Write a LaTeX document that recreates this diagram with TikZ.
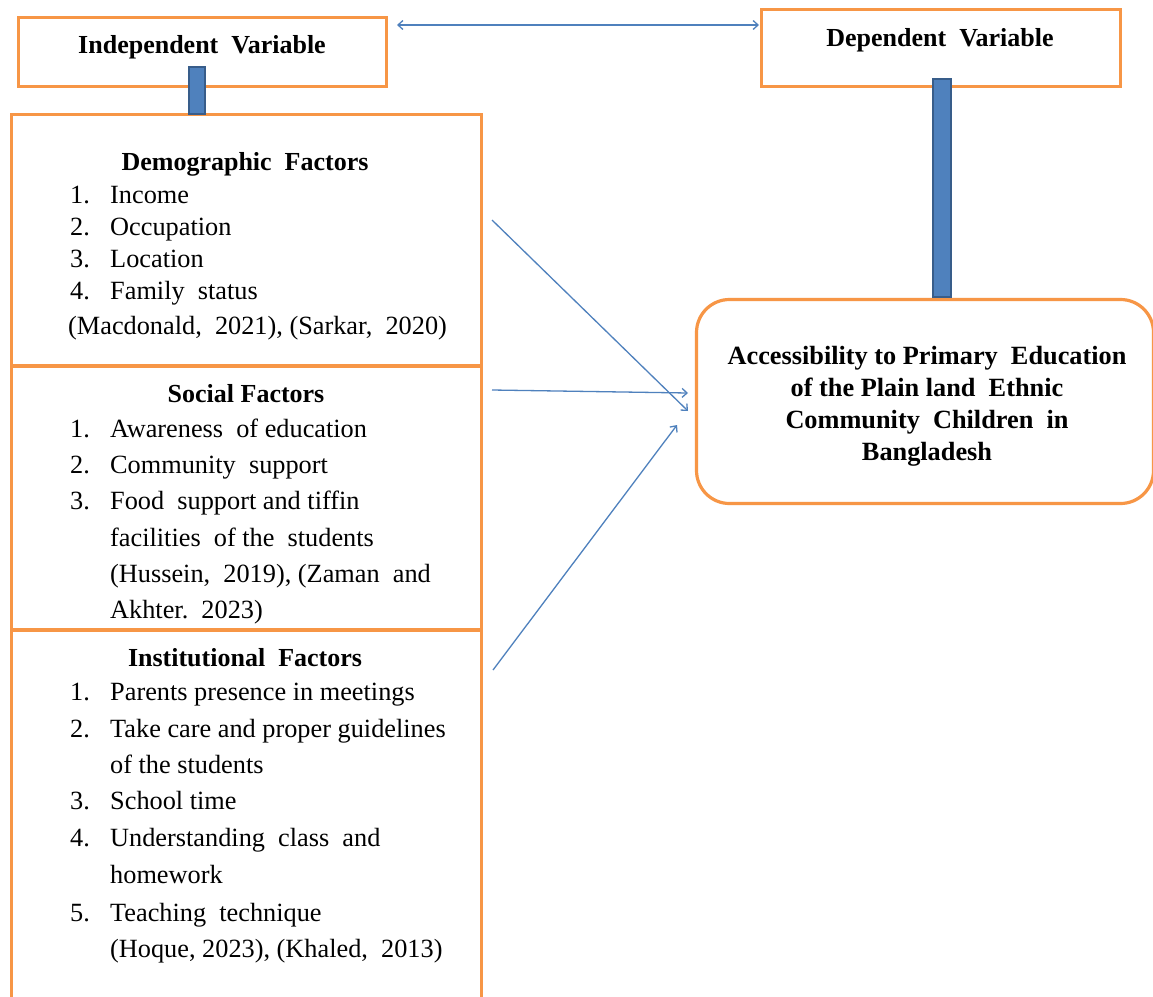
\documentclass[tikz,border=0pt]{standalone}
\usepackage{fontspec}
\setmainfont{Liberation Serif}
\usetikzlibrary{arrows.meta,calc}
\definecolor{orng}{HTML}{F79646}
\definecolor{blu}{HTML}{4F81BD}
\definecolor{dblu}{HTML}{385D8A}
\newcommand\LItem[5]{\node[txt] (#1n) at (70,#2) {#3}; \node[txt] (#1) at (110,#2) {#4#5};}
\begin{document}
\begin{tikzpicture}[x=1pt,y=-1pt,
  obox/.style={draw=orng, line width=3.2pt, fill=white, inner sep=0pt, outer sep=0pt, anchor=north west},
  bar/.style={draw=dblu, fill=blu, line width=2pt, inner sep=0pt, outer sep=0pt, anchor=north},
  conn/.style={draw=blu, line width=1.3pt, -{Straight Barb[length=5pt,width=9pt]}},
  txt/.style={inner sep=0pt, anchor=base west, yshift=-2pt, font=\fontsize{26.3}{30}\selectfont},
  ttl/.style={inner sep=0pt, anchor=base, yshift=-1.5pt, font=\fontsize{26}{30}\selectfont\bfseries},
]
\clip (0,0) rectangle (1153,996);
\fill[white] (0,0) rectangle (1153,996);
% boxes
\node[obox, minimum width=368pt, minimum height=69pt] (iv) at (18.5,17.5) {};
\node[obox, minimum width=359pt, minimum height=77pt] (dv) at (761.5,9.5) {};
\node[obox, minimum width=470pt, minimum height=251.5pt] (demo) at (11.5,114.5) {};
\node[obox, minimum width=470pt, minimum height=264pt] (soc) at (11.5,366) {};
\node[obox, minimum width=470pt, minimum height=400pt] (inst) at (11.5,630) {};
\node[obox, rounded corners=33pt, minimum width=457pt, minimum height=204pt] (out) at (696.5,299.5) {};
\node[inner sep=0pt, align=center, font=\fontsize{26.3}{32}\selectfont\bfseries] (outT) at (927,406)
  {Accessibility to Primary\ \ Education\\ of the Plain land\ \ Ethnic\\ Community\ \ Children\ \ in\\ Bangladesh};
% bars
\node[bar, minimum width=16pt, minimum height=47pt] (barL) at (197,67) {};
\node[bar, minimum width=18pt, minimum height=218pt] (barR) at (942,79) {};
% headings
\node[ttl] (ivT) at (202,52) {Independent\ \ Variable};
\node[ttl] (dvT) at (940,45) {Dependent\ \ Variable};
% demographic
\node[ttl] (demoT) at (245,169) {Demographic\ \ Factors};
\LItem{d1}{201}{1.}{Income}{}
\LItem{d2}{233}{2.}{Occupation}{}
\LItem{d3}{265}{3.}{Location}{}
\LItem{d4}{297}{4.}{Family\ \ status}{}
\node[txt] (dref) at (68,332) {(Macdonald,\ \ 2021),\ (Sarkar,\ \ 2020)};
% social
\node[ttl] (socT) at (246,401) {Social Factors};
\LItem{s1}{435}{1.}{Awareness\ \ of education}{}
\LItem{s2}{471}{2.}{Community\ \ support}{}
\LItem{s3}{507}{3.}{Food\ \ support\ and tiffin}{}
\node[txt] (s3b) at (110,544) {facilities\ \ of the\ \ students};
\node[txt] (s3c) at (110,580) {(Hussein,\ \ 2019), (Zaman\ \ and};
\node[txt] (s3d) at (110,616) {Akhter.\ \ 2023)};
% institutional
\node[ttl] (instT) at (245,665) {Institutional\ \ Factors};
\LItem{i1}{698}{1.}{Parents presence in meetings}{}
\LItem{i2}{735}{2.}{Take care and proper guidelines}{}
\node[txt] (i2b) at (110,771) {of the students};
\LItem{i3}{807}{3.}{School time}{}
\LItem{i4}{844}{4.}{Understanding\ \ class\ \ and}{}
\node[txt] (i4b) at (110,881) {homework};
\LItem{i5}{919}{5.}{Teaching\ \ technique}{}
\node[txt] (iref) at (110,955) {(Hoque,\ 2023), (Khaled,\ \ 2013)};
% connectors
\coordinate (tA) at (397,25);
\coordinate (tB) at (759,25);
\draw[conn, {Straight Barb[length=5pt,width=9pt]}-{Straight Barb[length=5pt,width=9pt]}] (tA) -- (tB);
\coordinate (a1s) at (492,220);
\coordinate (a1e) at (688,411);
\coordinate (a2s) at (492,390);
\coordinate (a2e) at (688,393);
\coordinate (a3s) at (493,670);
\coordinate (a3e) at (677,425);
\draw[conn] (a1s) -- (a1e);
\draw[conn] (a2s) -- (a2e);
\draw[conn] (a3s) -- (a3e);
\end{tikzpicture}
\end{document}
